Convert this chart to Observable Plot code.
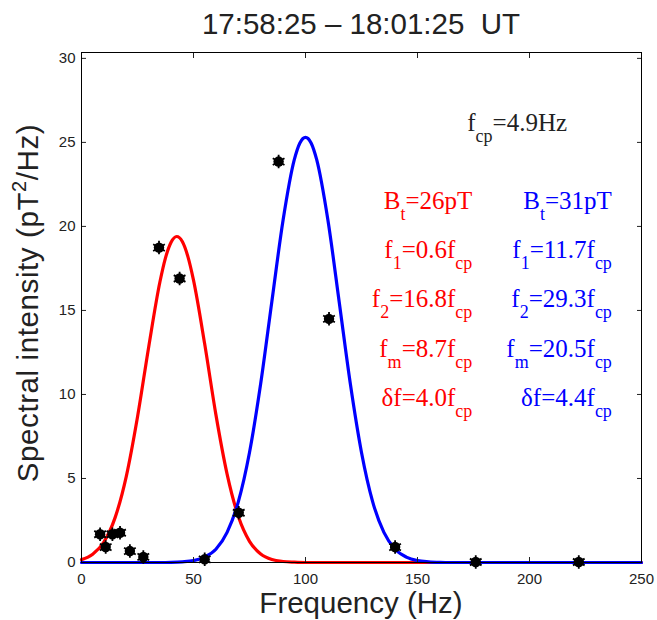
<!DOCTYPE html>
<html><head><meta charset="utf-8">
<script src="https://cdn.jsdelivr.net/npm/d3@7"></script>
<script src="https://cdn.jsdelivr.net/npm/@observablehq/plot@0.6"></script>
<style>body{margin:0;background:#fff} svg{display:block}</style>
</head><body><div id="chart"></div>
<script>
// ---- data ----
const redFreq = [0,5,10,15,20,25,30,35,37.5,40,42.5,45,47.5,50,55,60,65,70,75,80,85,90,95,100,110,120,130,140,150,160,170,180,190,200,210,220,230,240,250];
const redCurve = [0.17,0.49,1.22,2.67,5.13,8.66,12.83,16.69,18.13,19.06,19.4,19.10,18.2,16.80,13.0,8.8,5.26,2.75,1.26,0.51,0.18,0.06,0.02,0,0,0,0,0,0,0,0,0,0,0,0,0,0,0,0];
const blueFreq = [0,10,20,30,35,40,45,50,55,60,65,70,75,80,85,90,95,97.5,100,102.5,105,110,115,120,125,130,135,140,145,150,155,160,165,170,180,190,200,210,220,230,240,250];
const blueCurve = [0,0,0,0,0,0.01,0.04,0.11,0.32,0.79,1.79,3.61,6.55,10.65,15.55,20.38,23.97,24.97,25.3,24.97,23.97,20.38,15.55,10.65,6.55,3.61,1.79,0.79,0.32,0.11,0.04,0.01,0,0,0,0,0,0,0,0,0,0];
const freqPts = [8.3,10.8,13.8,17.2,21.6,27.6,34.6,43.8,55.0,70.2,88.0,110.5,140.0,176.0,222.0];
const intensityPts = [1.68,0.92,1.68,1.77,0.68,0.33,18.74,16.9,0.19,2.96,23.86,14.5,0.92,0.03,0.03];
const xTicks = [0,50,100,150,200,250];
const yTicks = [0,5,10,15,20,25,30];
const titleText = "17:58:25 \u2013 18:01:25\u00a0 UT";
const xLabel = "Frequency (Hz)";
const yLabel = "Spectral intensity (pT^{2}/Hz)";
const fcpLabel = "f_{cp}=4.9Hz";
const redLabels = ["B_{t}=26pT","f_{1}=0.6f_{cp}","f_{2}=16.8f_{cp}","f_{m}=8.7f_{cp}","\u03b4f=4.0f_{cp}"];
const blueLabels = ["B_{t}=31pT","f_{1}=11.7f_{cp}","f_{2}=29.3f_{cp}","f_{m}=20.5f_{cp}","\u03b4f=4.4f_{cp}"];

// annotation anchor positions (data units)
const labelRowY = [21.02,18.10,15.15,12.20,9.26];
const redLabelX = 174.7, blueLabelX = 237.0;
const fcpPos = [217.0, 25.63];

const redTable = redFreq.map((f,i)=>({f, v: redCurve[i]}));
const blueTable = blueFreq.map((f,i)=>({f, v: blueCurve[i]}));
const ptsTable = freqPts.map((f,i)=>({f, v: intensityPts[i]}));

const plot = Plot.plot({
  width: 657, height: 620,
  marginTop: 52, marginBottom: 58, marginLeft: 81, marginRight: 16,
  style: {fontFamily: "'Liberation Sans', Arial, Helvetica, sans-serif", fontSize: "15px", color: "#222", background: "white", overflow: "visible"},
  x: {domain: [0,250], label: null},
  y: {domain: [0,30.35], label: null},
  marks: [
    Plot.line(redTable, {x: "f", y: "v", stroke: "#ff0000", strokeWidth: 3.2, curve: "monotone-x"}),
    Plot.line(blueTable, {x: "f", y: "v", stroke: "#0000ff", strokeWidth: 3.2, curve: "monotone-x"}),
    Plot.dot(ptsTable, {x: "f", y: "v", r: 5.2, fill: "black", stroke: "none"}),
    Plot.dot(ptsTable, {x: "f", y: "v", r: 6.4, symbol: "asterisk", stroke: "black", strokeWidth: 1.8}),
    Plot.axisX({ticks: xTicks, tickSize: -5, tickPadding: 16, fontSize: 15, label: null}),
    Plot.axisY({ticks: yTicks, tickSize: -5, tickPadding: 11, fontSize: 15, label: null}),
    Plot.axisX({anchor: "top", ticks: xTicks, tickSize: -5, tickFormat: () => "", label: null}),
    Plot.axisY({anchor: "right", ticks: yTicks, tickSize: -5, tickFormat: () => "", label: null}),
    Plot.frame({stroke: "black", strokeWidth: 1})
  ]
});
document.getElementById("chart").appendChild(plot);

const sx = plot.scale("x"), sy = plot.scale("y");
const svg = d3.select(plot);

function richText(str, x, y, opts) {
  const {anchor="middle", color="#222", size=25, subSize=18, subShift=11, supShift=-10, family, rotate, spacing=0} = opts;
  const t = svg.append("text")
    .attr("text-anchor", anchor).attr("fill", color)
    .attr("font-family", family).attr("font-size", size)
    .attr("letter-spacing", spacing);
  if (rotate) t.attr("transform", `translate(${x},${y}) rotate(${rotate})`);
  else t.attr("x", x).attr("y", y);
  let cur = 0;
  for (const m of str.matchAll(/([_^])\{([^}]*)\}|([^_^]+)/g)) {
    if (m[3] !== undefined) {
      t.append("tspan").attr("dy", -cur).attr("font-size", size).text(m[3]);
      cur = 0;
    } else {
      const s = m[1] === "_" ? subShift : supShift;
      t.append("tspan").attr("dy", s - cur).attr("font-size", subSize).text(m[2]);
      cur = s;
    }
  }
  return t;
}

const x0 = sx.apply(0), x1 = sx.apply(250), yTop = sy.apply(30.35), yBot = sy.apply(0);
const cx = (x0 + x1) / 2, cy = (yTop + yBot) / 2;
const sans = "'Liberation Sans', Arial, Helvetica, sans-serif";
const serif = "'Liberation Serif', 'Times New Roman', Times, serif";

richText(titleText, cx, 34, {family: sans, size: 29.5});
richText(xLabel, cx, 613, {family: sans, size: 29.5});
richText(yLabel, 38, cy - 4, {family: sans, size: 29.5, subSize: 20, supShift: -12, rotate: -90, spacing: 0.6});

richText(fcpLabel, sx.apply(fcpPos[0]), sy.apply(fcpPos[1]), {anchor: "end", family: serif, color: "#222"});
redLabels.forEach((s,i) => richText(s, sx.apply(redLabelX), sy.apply(labelRowY[i]), {anchor: "end", family: serif, color: "#ff0000"}));
blueLabels.forEach((s,i) => richText(s, sx.apply(blueLabelX), sy.apply(labelRowY[i]), {anchor: "end", family: serif, color: "#0000ff"}));
</script>
</body></html>
